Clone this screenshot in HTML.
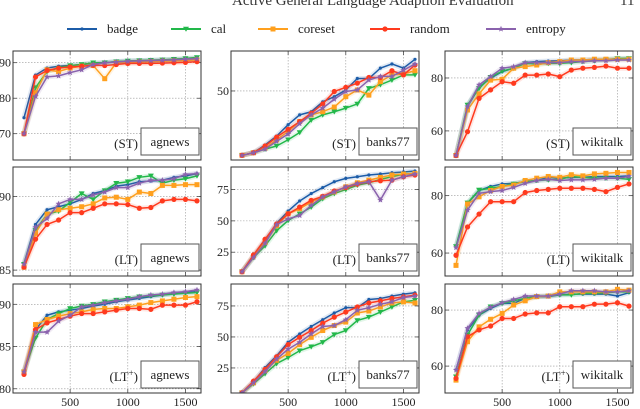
<!DOCTYPE html>
<html><head><meta charset="utf-8">
<style>
html,body{margin:0;padding:0;background:#fff;}
svg{display:block;font-family:"Liberation Serif",serif;}
</style></head>
<body>
<svg id="chart" width="640" height="409" viewBox="0 0 640 409">
<text x="232" y="5" font-size="15" fill="#333">Active General Language Adaption Evaluation</text>
<text x="620" y="5" font-size="15" fill="#333">11</text>
<g id="legend"></g>
<g id="panels"></g>
</svg>
<script>
const xValues=[100,200,300,400,500,600,700,800,900,1000,1100,1200,1300,1400,1500,1600];
const xTicks=[500,1000,1500];
const seriesNames=["badge","cal","coreset","random","entropy"];
const seriesColors=["#1c5ca8","#22b84a","#ffa01e","#ff3a1e","#8a62ad"];
const panelTags=["(ST)","(ST)","(ST)","(LT)","(LT)","(LT)","(LT+)","(LT+)","(LT+)"];
const panelDatasets=["agnews","banks77","wikitalk","agnews","banks77","wikitalk","agnews","banks77","wikitalk"];
const yDomains=[[62.6,93.3],[36.7,57.7],[49,90.2],[84.6,92],[6,93],[52,90],[79.5,92.4],[4.8,92.7],[50.4,89.3]];
const yTicks=[[70,80,90],[50],[60,80],[85,90],[25,50,75],[60,80],[80,85,90],[25,50,75],[60,80]];
// r1c1 ST agnews
const stAgnewsBadge=[74.5,86.5,88.5,89,89.2,89.5,89.8,90,90.3,90.5,90.6,90.7,90.8,90.9,91,91.2];
const stAgnewsCal=[70,83,87.5,88.5,89.2,89.5,90,90,90.3,90.5,90.6,90.7,90.8,91,91.2,91.5];
const stAgnewsCoreset=[70,81.5,88,87.5,88.5,89,89.2,85.5,90,90,90.2,90.3,90.4,90.5,90.6,90.8];
const stAgnewsRandom=[70,86,87.8,88.5,88.8,89,89.3,89.2,89.5,89.8,89.8,89.8,89.9,90,90.1,90.3];
const stAgnewsEntropy=[70,80.5,86,86.3,87.2,88,89.5,90,90.2,90.4,90.5,90.6,90.7,90.8,91,91.1];
// r1c2 ST banks77
const stBanksBadge=[37.6,38.1,39.6,41.3,43.5,45.4,46.0,47.9,48.9,50.2,52.4,52.4,54.4,55.2,54.4,56.1];
const stBanksCal=[37.6,38.1,38.8,39.4,40.6,42.0,44.4,45.4,46.0,46.7,47.5,50.5,51.2,52.1,53.1,53.1];
const stBanksCoreset=[37.6,38.1,39,40.6,42.2,44.1,45.4,46,46.9,48.9,50.2,49.2,51.8,53.1,53.3,53.9];
const stBanksRandom=[37.6,38.1,39.4,41.1,42.6,44.1,45.7,47.5,49.9,50.7,51.5,52.6,52.6,53.9,53.1,55.0];
const stBanksEntropy=[37.6,38.1,38.8,40.3,41.7,43.7,45.4,46.7,48.4,49.9,50.2,52.1,52.8,52.8,54.0,55.2];
// r1c3 ST wikitalk
const stWikiBadge=[50.7,69.2,76.5,79.9,82.4,83.7,85.8,86.2,86.4,86.5,86.8,86.8,87.1,87.1,87.2,87.4];
const stWikiCal=[50.7,69.8,76.1,80.3,82.6,83.7,85.5,85.3,85.5,85.5,85.8,86.2,86.5,86.8,87.4,87.4];
const stWikiCoreset=[50.7,67.9,74,79.2,79.5,83.7,84.3,84.9,85.8,86.2,86.8,86.8,87.1,87.1,87.1,87.1];
const stWikiRandom=[50.7,59.7,72.3,75.5,78.6,78,81.1,81.1,81.5,80.5,83,83.7,84,84.5,83.7,83.7];
const stWikiEntropy=[50.7,69.2,77.4,80.5,83.7,84.3,85.8,85.8,85.8,85.8,86.2,86.2,86.5,86.5,86.8,86.8];
// r2c1 LT agnews
const ltAgnewsBadge=[85.45,88.1,89.1,89.3,89.5,89.8,90.2,90.4,90.7,90.8,91,91.05,91.1,91.3,91.4,91.55];
const ltAgnewsCal=[85.4,87.7,88.8,89.0,89.6,90.2,89.8,90.4,90.9,91.0,91.3,91.4,90.9,91.1,91.2,91.4];
const ltAgnewsCoreset=[85.2,87.5,88.8,89.1,89.2,89.3,89.5,89.9,89.95,89.8,90.3,90.2,90.75,90.75,90.8,90.8];
const ltAgnewsRandom=[85.2,87.1,88.1,88.4,88.9,88.9,89.2,89.5,89.5,89.45,89.2,89.25,89.7,89.8,89.8,89.7];
const ltAgnewsEntropy=[85.4,87.9,88.5,89.5,89.8,89.8,90.1,90.3,90.6,90.6,90.9,91.1,91.1,91.2,91.5,91.55];
// r2c2 LT banks77
const ltBanksBadge=[9.4,22,34.1,48.1,57.8,65.9,71.8,76.6,81.2,83.9,85.2,86.6,87.4,88.4,89,89.8];
const ltBanksCal=[9.4,20.7,30.1,42.2,50.3,55.6,61,67.7,71.8,75,78.5,80.4,83.1,85.2,87.4,87.4];
const ltBanksCoreset=[9.4,22,32.8,46.2,55.6,59.7,65.1,69.1,73.1,77.2,80.4,82.5,84.7,86.6,87.4,87.9];
const ltBanksRandom=[9.4,22.8,35.4,47.5,55.6,61,66.4,69.6,73.9,76.6,79.3,81.2,82,82.5,85.2,86.6];
const ltBanksEntropy=[9.4,20.7,32,47,51.6,54.3,62.4,69.1,73.1,77.2,79.8,81.2,66.7,82.5,85.2,87.4];
// r2c3 LT wikitalk
const ltWikiBadge=[61.9,77.3,81.8,83.2,84.1,84.3,84.9,85.3,86.4,86.1,86.4,86.4,86.7,86.7,86.7,86.9];
const ltWikiCal=[62.3,77.5,82,82.6,83.2,84.1,84.9,85.3,85.5,85.7,86.7,86.4,86.1,86.1,86.1,85.7];
const ltWikiCoreset=[55.7,77.1,79.6,81.8,83.2,83.7,85.3,86.1,86.7,86.4,87.3,86.9,87.6,87.8,88.1,88.1];
const ltWikiRandom=[59.2,69.1,73.6,77.9,77.9,77.9,81.1,81.8,82.2,82.6,82.6,82.6,82.2,81.4,82.9,84.1];
const ltWikiEntropy=[61.9,75,80.8,81.4,81.8,82.9,84.3,85.3,85.7,85.3,85.5,85.5,85.7,86.1,86.1,86.7];
// r3c1 LT+ agnews
const ltpAgnewsBadge=[82,87,88.7,89.1,89.3,89.5,89.8,90,90.3,90.5,90.7,90.9,91.1,91.3,91.4,91.5];
const ltpAgnewsCal=[82,86,88.2,88.9,89.5,89.8,90,90.3,90.5,90.7,90.9,91,91.1,91.2,91.3,91.4];
const ltpAgnewsCoreset=[82,87.6,88.2,88.6,88.9,89.1,89.4,89.5,89.5,89.7,89.9,90.2,90.4,90.6,90.8,90.9];
const ltpAgnewsRandom=[81.7,87,87.8,88.2,88.6,88.9,88.9,89.1,89.3,89.5,89.5,89.4,89.9,89.9,89.9,90.3];
const ltpAgnewsEntropy=[82,86.7,86.7,88,88.7,89.7,89.9,90.2,90.4,90.6,90.9,91.1,91.2,91.4,91.5,91.7];
// r3c2 LT+ banks77
const ltpBanksBadge=[4.9,13.9,25.3,34.8,45.7,52.4,58.4,63.9,69.3,73.6,73.6,80.2,81,82.9,84.5,85.6];
const ltpBanksCal=[4.9,12.2,20.4,28.5,33.4,38.9,42.1,45.7,51.9,55.2,63.3,66,70.1,74.2,78.3,79.6];
const ltpBanksCoreset=[4.9,13,23.1,31.2,36.7,43.8,49.7,55.2,59.2,62,69.3,70.9,74.2,77.4,78.3,77.4];
const ltpBanksRandom=[4.9,14.4,23.9,34,43.8,49.7,55.2,61.1,66,70.1,74.2,77.4,79.1,81,82.3,83.7];
const ltpBanksEntropy=[4.9,13,22,32.1,40.2,45.7,52.4,58.4,59.2,63.9,71.5,73.6,76.4,78.3,81.8,82.9];
// r3c3 LT+ wikitalk
const ltpWikiBadge=[58.6,72.9,78.2,80.6,82.4,82.4,84.2,84.8,84.8,85.4,85.7,85.7,85.7,85.7,85,86.2];
const ltpWikiCal=[56.2,71.1,78.2,81.2,82.4,83.3,84.2,84.8,85,85.4,85.4,86,86,86.2,86.5,86.5];
const ltpWikiCoreset=[55,68.7,74,76.7,78.8,81.8,83.3,84.8,85,86.5,86.5,86.5,86.5,86.5,87.4,87.1];
const ltpWikiRandom=[55.6,70.5,72.9,74.3,77,77,78.6,79,79,81.2,81.2,81.2,82.1,82.1,82.6,81.4];
const ltpWikiEntropy=[58.6,73.5,78.8,81,82.6,83.8,85,85,85,85.7,86.9,86.9,86.9,86.5,86.5,86.9];

const panelSeries=[
 [stAgnewsBadge,stAgnewsCal,stAgnewsCoreset,stAgnewsRandom,stAgnewsEntropy],
 [stBanksBadge,stBanksCal,stBanksCoreset,stBanksRandom,stBanksEntropy],
 [stWikiBadge,stWikiCal,stWikiCoreset,stWikiRandom,stWikiEntropy],
 [ltAgnewsBadge,ltAgnewsCal,ltAgnewsCoreset,ltAgnewsRandom,ltAgnewsEntropy],
 [ltBanksBadge,ltBanksCal,ltBanksCoreset,ltBanksRandom,ltBanksEntropy],
 [ltWikiBadge,ltWikiCal,ltWikiCoreset,ltWikiRandom,ltWikiEntropy],
 [ltpAgnewsBadge,ltpAgnewsCal,ltpAgnewsCoreset,ltpAgnewsRandom,ltpAgnewsEntropy],
 [ltpBanksBadge,ltpBanksCal,ltpBanksCoreset,ltpBanksRandom,ltpBanksEntropy],
 [ltpWikiBadge,ltpWikiCal,ltpWikiCoreset,ltpWikiRandom,ltpWikiEntropy]
];

const NS="http://www.w3.org/2000/svg";
function mk(tag,attrs,parent){const e=document.createElementNS(NS,tag);for(const k in attrs)e.setAttribute(k,attrs[k]);if(parent)parent.appendChild(e);return e;}
function marker(g,i,x,y,c){
  let m;
  if(i===0){m=mk('circle',{cx:x,cy:y,r:1.6,fill:c},g);}
  else if(i===1){m=mk('polygon',{points:`${x-3},${y-2.2} ${x+3},${y-2.2} ${x},${y+2.8}`,fill:c},g);}
  else if(i===2){m=mk('rect',{x:x-2.5,y:y-2.5,width:5,height:5,fill:c},g);}
  else if(i===3){m=mk('circle',{cx:x,cy:y,r:2.6,fill:c},g);}
  else{let p=[];for(let k=0;k<10;k++){const a=-Math.PI/2+k*Math.PI/5;const r=k%2?1.4:3.2;p.push((x+r*Math.cos(a)).toFixed(2)+','+(y+r*Math.sin(a)).toFixed(2));}m=mk('polygon',{points:p.join(' '),fill:c},g);}
  
  
}
// legend
const legend=document.getElementById('legend');
const legX=[67,171,258,370,486];
seriesNames.forEach((n,i)=>{
  const g=mk('g',{},legend);
  
  
  mk('line',{x1:legX[i],y1:29,x2:legX[i]+30,y2:29,stroke:seriesColors[i],'stroke-width':2},g);
  marker(g,i,legX[i]+15,29,seriesColors[i]);
  const t=mk('text',{x:legX[i]+40,y:33,'font-size':13,fill:'#222'},g);
  t.textContent=n;
});
const colL=[13,231,445],rowT=[51,167,284],W=188,H=109;
const panels=document.getElementById('panels');
for(let p=0;p<9;p++){
  const r=Math.floor(p/3),c=p%3,L=colL[c],T=rowT[r];
  const [y0,y1]=yDomains[p];
  const X=v=>L+11+(v-100)/1500*173;
  const Y=v=>T+H-(v-y0)/(y1-y0)*H;
  const g=mk('g',{},panels);
  
  
  const cid='clip'+p;
  const cp=mk('clipPath',{id:cid},g);mk('rect',{x:L,y:T,width:W,height:H},cp);
  xTicks.forEach(t=>{
    const gl=mk('line',{x1:X(t),x2:X(t),y1:T,y2:T+H,stroke:'#999','stroke-width':0.6,'stroke-dasharray':'1.5,1.5'},g);
    
    
    mk('line',{x1:X(t),x2:X(t),y1:T+H,y2:T+H-4,stroke:'#333','stroke-width':0.7},g);
    mk('line',{x1:X(t),x2:X(t),y1:T,y2:T+4,stroke:'#333','stroke-width':0.7},g);
    if(r===2){const tl=mk('text',{x:X(t),y:T+H+13,'text-anchor':'middle','font-size':12,fill:'#222'},g);tl.textContent=t;
      
      }
  });
  yTicks[p].forEach(t=>{
    const gl=mk('line',{x1:L,x2:L+W,y1:Y(t),y2:Y(t),stroke:'#999','stroke-width':0.6,'stroke-dasharray':'1.5,1.5'},g);
    
    
    mk('line',{x1:L,x2:L+4,y1:Y(t),y2:Y(t),stroke:'#333','stroke-width':0.7},g);
    mk('line',{x1:L+W,x2:L+W-4,y1:Y(t),y2:Y(t),stroke:'#333','stroke-width':0.7},g);
    const tl=mk('text',{x:L-2,y:Y(t)+4,'text-anchor':'end','font-size':12,fill:'#222'},g);tl.textContent=t;
    
    
  });
  const sg=mk('g',{'clip-path':`url(#${cid})`},g);
  panelSeries[p].forEach((vals,i)=>{
    const pts=vals.map((v,k)=>X(xValues[k]).toFixed(2)+','+Y(v).toFixed(2)).join(' ');
    const band=mk('polyline',{points:pts,fill:'none',stroke:seriesColors[i],'stroke-width':5,'stroke-opacity':0.13,'stroke-linejoin':'round'},sg);
    
    
    const ln=mk('polyline',{points:pts,fill:'none',stroke:seriesColors[i],'stroke-width':1.5,'stroke-linejoin':'round'},sg);
    
    
    vals.forEach((v,k)=>marker(sg,i,X(xValues[k]),Y(v),seriesColors[i]));
  });
  const fr=mk('rect',{x:L,y:T,width:W,height:H,fill:'none',stroke:'#333','stroke-width':1},g);
  
  
  const tag=panelTags[p];
  const tt=mk('text',{x:L+125,y:T+97,'text-anchor':'end','font-size':13,fill:'#222'},g);
  
  
  if(tag.indexOf('+')>=0){tt.textContent='(LT';const s=mk('tspan',{dy:-5,'font-size':9},tt);s.textContent='+';const s2=mk('tspan',{dy:5},tt);s2.textContent=')';}
  else tt.textContent=tag;
  const bx=mk('rect',{x:L+128,y:T+77,width:58,height:27,fill:'#fff',stroke:'#555','stroke-width':1},g);
  
  
  const dt=mk('text',{x:L+157,y:T+95,'text-anchor':'middle','font-size':13,fill:'#222'},g);
  dt.textContent=panelDatasets[p];
  
  
}
</script>
</body></html>
